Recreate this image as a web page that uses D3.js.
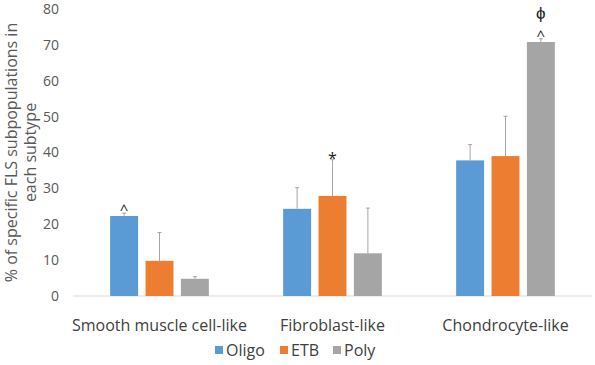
<!DOCTYPE html>
<html><head><meta charset="utf-8">
<script src="https://cdn.jsdelivr.net/npm/d3@7"></script>
<style>body{margin:0;background:#fff}</style>
</head><body>
<svg id="c" width="595" height="365"></svg>
<script>
const categories = ["Smooth muscle cell-like", "Fibroblast-like", "Chondrocyte-like"];
const seriesNames = ["Oligo", "ETB", "Poly"];
const oligo = [22.3, 24.3, 37.8];
const etb = [9.8, 27.9, 39.0];
const poly = [4.8, 11.9, 70.8];
const oligoErr = [0.8, 5.9, 4.4];
const etbErr = [7.9, 10.1, 11.1];
const polyErr = [0.6, 12.6, 0.9];
const yTicks = [0, 10, 20, 30, 40, 50, 60, 70, 80];
const annotations = [
  {cat: 0, series: 0, marks: ["^"]},
  {cat: 1, series: 1, marks: ["*"]},
  {cat: 2, series: 2, marks: ["^", "ϕ"]}
];
const colors = ["#5B9BD5", "#ED7D31", "#A5A5A5"];

const values = [oligo, etb, poly];
const errs = [oligoErr, etbErr, polyErr];
const svg = d3.select("#c");
const font = "'Open Sans', 'Liberation Sans', sans-serif";
const mLeft = 73, mRight = 592, mTop = 9, mBottom = 296;

const x0 = d3.scaleBand().domain(categories).range([mLeft, mRight]).paddingInner(0).paddingOuter(0);
const x1 = d3.scaleBand().domain(seriesNames).range([0, x0.bandwidth()]).paddingInner(0.21).paddingOuter(1.05);
const y = d3.scaleLinear().domain([0, 80]).range([mBottom, mTop]);

// baseline
svg.append("line").attr("x1", mLeft).attr("x2", mRight).attr("y1", y(0)).attr("y2", y(0))
  .attr("stroke", "#d9d9d9").attr("stroke-width", 1);

// y axis
const yAxis = d3.axisLeft(y).tickValues(yTicks).tickSize(0).tickPadding(0);
const ga = svg.append("g").attr("transform", `translate(59,0)`).call(yAxis);
ga.select(".domain").remove();
ga.selectAll("text").attr("font-family", font).attr("font-size", 14).attr("fill", "#595959");

// bars
seriesNames.forEach((s, si) => {
  const g = svg.append("g");
  categories.forEach((c, ci) => {
    const v = values[si][ci];
    const bx = x0(c) + x1(s);
    g.append("rect").attr("x", bx).attr("y", y(v)).attr("width", x1.bandwidth())
      .attr("height", y(0) - y(v)).attr("fill", colors[si]);
    const cx = bx + x1.bandwidth() / 2;
    const et = v + errs[si][ci];
    g.append("line").attr("x1", cx).attr("x2", cx).attr("y1", y(v)).attr("y2", y(et))
      .attr("stroke", "#a6a6a6").attr("stroke-width", 1);
    g.append("line").attr("x1", cx - 2).attr("x2", cx + 2).attr("y1", y(et)).attr("y2", y(et))
      .attr("stroke", "#a6a6a6").attr("stroke-width", 1);
  });
});

// annotations
annotations.forEach(a => {
  const c = categories[a.cat], s = seriesNames[a.series];
  const cx = x0(c) + x1(s) + x1.bandwidth() / 2;
  const et = values[a.series][a.cat] + errs[a.series][a.cat];
  a.marks.forEach((m, mi) => {
    let dy, fs;
    if (m === "^") { dy = 2; fs = 15; }
    else if (m === "*") { dy = 4; fs = 16; }
    else { dy = -20; fs = 17; }
    svg.append("text").attr("x", cx).attr("y", y(et) + dy)
      .attr("text-anchor", "middle").attr("font-family", font)
      .attr("font-size", fs).attr("fill", "#222").text(m);
  });
});

// category labels
categories.forEach(c => {
  svg.append("text").attr("x", x0(c) + x0.bandwidth() / 2).attr("y", 331)
    .attr("text-anchor", "middle").attr("font-family", font).attr("font-size", 16)
    .attr("fill", "#404040").text(c);
});

// y title
const yt = svg.append("text").attr("transform", `translate(0,${(mTop + mBottom) / 2}) rotate(-90)`)
  .attr("text-anchor", "middle").attr("font-family", font).attr("font-size", 16).attr("fill", "#595959");
yt.append("tspan").attr("x", 0).attr("y", 17).text("% of specific FLS subpopulations in");
yt.append("tspan").attr("x", 0).attr("y", 36).text("each subtype");

// legend
const legendX = [215, 280, 333];
seriesNames.forEach((s, i) => {
  svg.append("rect").attr("x", legendX[i]).attr("y", 346).attr("width", 8).attr("height", 8).attr("fill", colors[i]);
  svg.append("text").attr("x", legendX[i] + 11).attr("y", 356).attr("font-family", font)
    .attr("font-size", 16).attr("fill", "#404040").text(s);
});
</script>
</body></html>
